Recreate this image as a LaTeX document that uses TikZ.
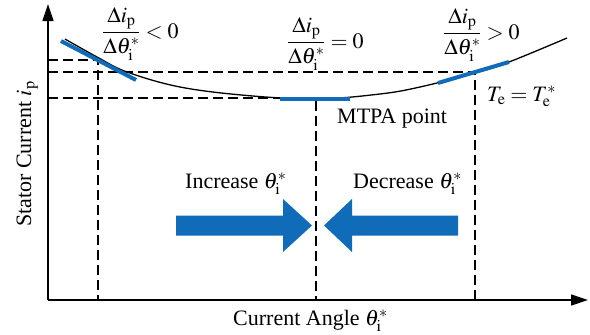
\documentclass[tikz,border=0pt]{standalone}
\usepackage{amsmath}
\usepackage{mathptmx}
\usepackage{fontspec}
\setmainfont{Liberation Serif}
\usetikzlibrary{arrows.meta}
\definecolor{myblue}{RGB}{16,108,184}
\begin{document}
\begin{tikzpicture}[x=1pt,y=-1pt,
  axis/.style={line width=1.3pt,-{Triangle[length=17pt,width=11pt]}},
  guide/.style={line width=1.2pt,dash pattern=on 10pt off 5pt},
  tangent/.style={line width=4pt,myblue},
  lbl/.style={inner sep=0pt,font=\fontsize{22}{26}\selectfont},
  bigarrow/.style={fill=myblue}]
\useasboundingbox (0,0) rectangle (590,335);
% axes
\coordinate (O) at (48,300);
\coordinate (Ytop) at (48,4);
\coordinate (Xend) at (588,300);
\draw[axis] (O) -- (Ytop);
\draw[axis] (O) -- (Xend);
% guide lines
\coordinate (a1) at (48,60);
\coordinate (a2) at (98,60);
\coordinate (a3) at (98,300);
\coordinate (b1) at (48,72);
\coordinate (b2) at (475,72);
\coordinate (b3) at (475,300);
\coordinate (c1) at (48,98);
\coordinate (c2) at (280,98);
\coordinate (d1) at (316,101);
\coordinate (d2) at (316,300);
\draw[guide] (a1) -- (a2) -- (a3);
\draw[guide] (b1) -- (b2) -- (b3);
\draw[guide] (c1) -- (c2);
\draw[guide] (d1) -- (d2);
% curve
\draw[line width=1.3pt] plot[smooth,tension=0.6] coordinates
  {(65,39) (97,57) (127,72) (180,87) (247,95.5) (317,99) (380,94) (420,87) (475,73) (509,62) (567,38)};
% tangents
\coordinate (t1a) at (61,41);
\coordinate (t1b) at (136,80);
\coordinate (t2a) at (280,99);
\coordinate (t2b) at (350,99);
\coordinate (t3a) at (438,83);
\coordinate (t3b) at (509,62);
\draw[tangent] (t1a) -- (t1b);
\draw[tangent] (t2a) -- (t2b);
\draw[tangent] (t3a) -- (t3b);
% big arrows
\fill[bigarrow] (176,215.5) -- (283,215.5) -- (283,199) -- (312,225.5) -- (283,252) -- (283,235.5) -- (176,235.5) -- cycle;
\fill[bigarrow] (458,215.5) -- (352,215.5) -- (352,199) -- (324,225.5) -- (352,252) -- (352,235.5) -- (458,235.5) -- cycle;
% labels
\node[lbl,anchor=base west] (f1) at (102,38) {$\dfrac{\Delta i_{\mathrm{p}}}{\Delta\theta_{\mathrm{i}}^{*}}<0$};
\node[lbl,anchor=base west] (f2) at (287,48) {$\dfrac{\Delta i_{\mathrm{p}}}{\Delta\theta_{\mathrm{i}}^{*}}=0$};
\node[lbl,anchor=base west] (f3) at (443,39) {$\dfrac{\Delta i_{\mathrm{p}}}{\Delta\theta_{\mathrm{i}}^{*}}>0$};
\node[lbl,anchor=base west] (te) at (487,101) {$T_{\mathrm{e}}=T_{\mathrm{e}}^{*}$};
\node[lbl,anchor=base west] (mtpa) at (337,123) {MTPA point};
\node[lbl,anchor=base west] (inc) at (185,188) {Increase $\theta_{\mathrm{i}}^{*}$};
\node[lbl,anchor=base west] (dec) at (353,188) {Decrease $\theta_{\mathrm{i}}^{*}$};
\node[lbl,anchor=base west] (xl) at (233,325) {Current Angle $\theta_{\mathrm{i}}^{*}$};
\node[lbl,anchor=base west,rotate=90] (yl) at (31,227) {Stator Current $i_{\mathrm{p}}$};
\end{tikzpicture}
\end{document}
